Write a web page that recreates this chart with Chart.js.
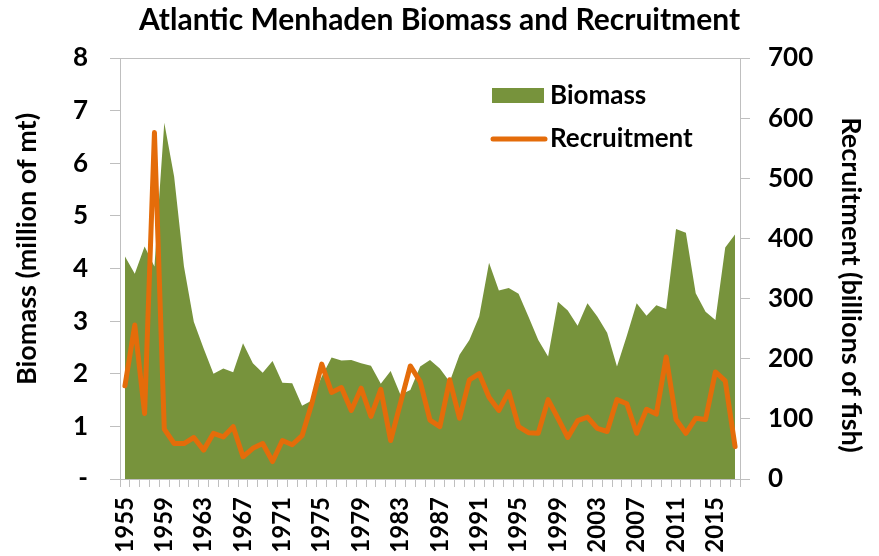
<!DOCTYPE html>
<html>
<head>
<meta charset="utf-8">
<script src="https://cdn.jsdelivr.net/npm/chart.js@4.4.1/dist/chart.umd.min.js"></script>
<style>
  html, body { margin: 0; padding: 0; background: #fff; }
  #wrap { width: 879px; height: 556px; position: relative; }
</style>
</head>
<body>
<div id="wrap"><canvas id="chart"></canvas></div>
<script>
/* ── Data ── */
const years = [];
for (let y = 1955; y <= 2017; y++) years.push(String(y));

// million metric tons
const biomass = [
  4.23, 3.90, 4.42, 4.04, 6.77, 5.75, 4.04, 2.99, 2.48, 2.00,
  2.10, 2.03, 2.58, 2.20, 2.02, 2.24, 1.83, 1.82, 1.39, 1.49,
  1.95, 2.31, 2.25, 2.26, 2.20, 2.15, 1.81, 2.05, 1.60, 1.69,
  2.14, 2.26, 2.10, 1.85, 2.36, 2.64, 3.09, 4.11, 3.58, 3.63,
  3.52, 3.09, 2.64, 2.33, 3.37, 3.20, 2.91, 3.34, 3.09, 2.78,
  2.14, 2.72, 3.34, 3.10, 3.30, 3.23, 4.75, 4.68, 3.53, 3.18,
  3.02, 4.40, 4.65
];

// billions of fish
const recruitment = [
  155, 256, 109, 576,  83,  59,  59,  69,  48,  76,
   70,  87,  37,  51,  59,  29,  64,  57,  72, 126,
  191, 144, 152, 114, 151, 104, 149,  64, 126, 188,
  162,  98,  87, 165, 101, 165, 175, 136, 114, 145,
   87,  77,  76, 132, 101,  69,  97, 103,  84,  79,
  132, 125,  76, 116, 108, 203,  99,  76, 101,  99,
  178, 163,  54
];

const GREEN = "#77933C";
const ORANGE = "#E46C0A";
const AXIS = "#BFBFBF";
const FONT = "Lato, 'Open Sans', sans-serif";

/* ── Plot border, axis titles and legend drawn on the canvas ── */
const decor = {
  id: "decor",
  beforeDatasetsDraw(chart) {
    const { ctx, chartArea: a } = chart;
    ctx.save();
    ctx.strokeStyle = AXIS;
    ctx.lineWidth = 1;
    ctx.strokeRect(a.left + 0.5, a.top + 0.5, a.right - a.left, a.bottom - a.top);
    ctx.restore();
  },
  afterDraw(chart) {
    const { ctx } = chart;
    ctx.save();
    ctx.fillStyle = "#000";
    ctx.font = "bold 27px " + FONT;
    ctx.textAlign = "center";
    ctx.textBaseline = "middle";
    // left axis title
    ctx.save();
    ctx.translate(27, 249);
    ctx.rotate(-Math.PI / 2);
    ctx.fillText("Biomass (million of mt)", 0, 0);
    ctx.restore();
    // right axis title
    ctx.save();
    ctx.translate(851, 285);
    ctx.rotate(Math.PI / 2);
    ctx.fillText("Recruitment (billions of fish)", 0, 0);
    ctx.restore();

    // legend
    const ds = chart.data.datasets;
    ctx.textAlign = "left";
    ctx.font = "bold 26px " + FONT;
    ctx.fillStyle = ds[0].backgroundColor;
    ctx.fillRect(492, 88, 52, 15);
    ctx.fillStyle = "#000";
    ctx.fillText(ds[0].label, 550, 96);
    ctx.strokeStyle = ds[1].borderColor;
    ctx.lineWidth = 5;
    ctx.lineCap = "round";
    ctx.beginPath();
    ctx.moveTo(493, 139);
    ctx.lineTo(545, 139);
    ctx.stroke();
    ctx.fillText(ds[1].label, 550, 139);
    ctx.restore();
  }
};

const tickFont = { family: FONT, size: 26, weight: "bold" };

new Chart(document.getElementById("chart"), {
  type: "line",
  data: {
    labels: years,
    datasets: [
      {
        label: "Biomass",
        data: biomass,
        yAxisID: "y",
        backgroundColor: GREEN,
        borderColor: GREEN,
        borderWidth: 0,
        fill: "origin",
        pointRadius: 0,
        tension: 0,
        order: 2
      },
      {
        label: "Recruitment",
        data: recruitment,
        yAxisID: "y1",
        borderColor: ORANGE,
        backgroundColor: ORANGE,
        borderWidth: 5,
        borderJoinStyle: "round",
        borderCapStyle: "round",
        fill: false,
        pointRadius: 0,
        tension: 0,
        order: 1
      }
    ]
  },
  options: {
    responsive: true,
    maintainAspectRatio: false,
    animation: false,
    layout: { padding: 0 },
    plugins: {
      legend: { display: false },
      tooltip: { enabled: false },
      title: {
        display: true,
        text: "Atlantic Menhaden Biomass and Recruitment",
        color: "#000",
        font: { family: FONT, size: 30, weight: "bold", lineHeight: 1.2 },
        padding: { top: 2, bottom: 20 }
      }
    },
    scales: {
      x: {
        type: "category",
        offset: true,
        grid: { display: true, offset: true, drawOnChartArea: false, drawTicks: true, tickLength: 8, color: AXIS },
        border: { display: true, color: AXIS },
        ticks: {
          autoSkip: false,
          minRotation: 90,
          maxRotation: 90,
          padding: 10,
          color: "#000",
          font: { family: FONT, size: 24, weight: "bold" },
          callback: (v, i) => (i % 4 === 0 ? years[i] : "")
        },
        afterFit: s => { s.height = 77; }
      },
      y: {
        position: "left",
        min: 0,
        max: 8,
        grid: { display: true, drawOnChartArea: false, drawTicks: true, tickLength: 10, color: AXIS },
        border: { display: true, color: AXIS },
        ticks: {
          stepSize: 1,
          padding: 22,
          color: "#000",
          font: tickFont,
          callback: v => (v === 0 ? "-" : v)
        },
        afterFit: s => { s.width = 120; }
      },
      y1: {
        position: "right",
        min: 0,
        max: 700,
        grid: { display: true, drawOnChartArea: false, drawTicks: true, tickLength: 10, color: AXIS },
        border: { display: true, color: AXIS },
        ticks: {
          stepSize: 100,
          padding: 18,
          color: "#000",
          font: tickFont
        },
        afterFit: s => { s.width = 139; }
      }
    }
  },
  plugins: [decor]
});
</script>
</body>
</html>
